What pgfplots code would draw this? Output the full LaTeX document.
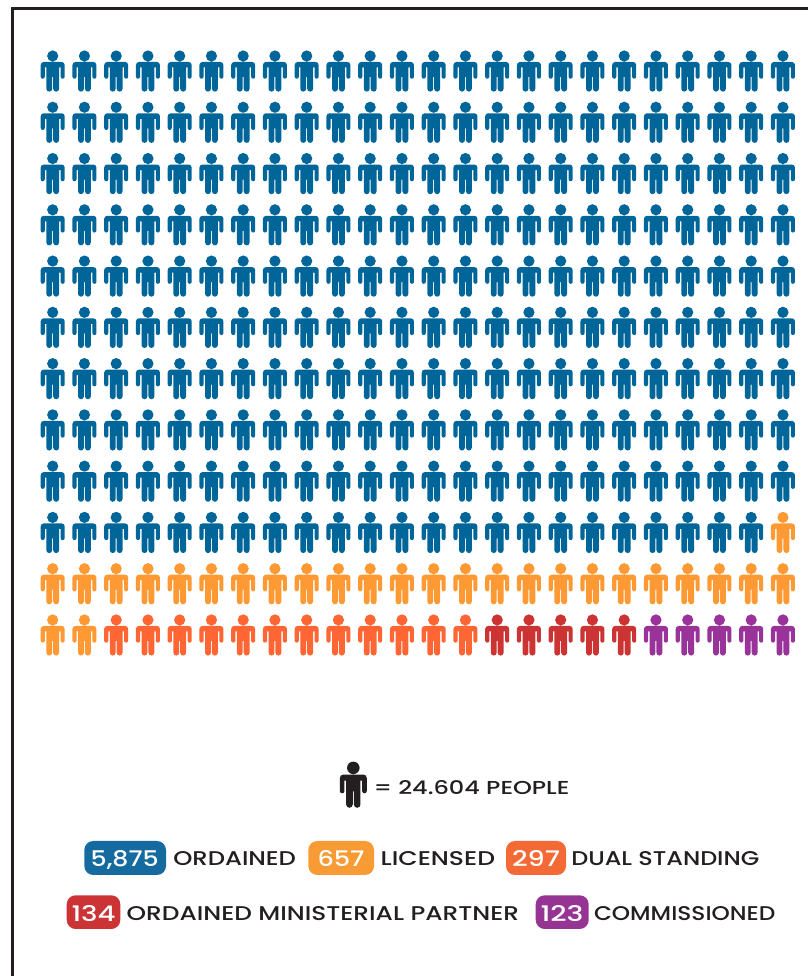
\documentclass[border=0pt]{standalone}
\usepackage{pgfplots}
\pgfplotsset{compat=1.18}
\usepackage{graphicx}
\usepackage{fontspec}
\setmainfont{Poppins Medium}
\definecolor{cblue}{HTML}{006699}
\definecolor{corange}{HTML}{FF9933}
\definecolor{cdual}{HTML}{FF6633}
\definecolor{cred}{HTML}{CC3333}
\definecolor{cpurple}{HTML}{993399}
\definecolor{bblue}{HTML}{156A9F}
\definecolor{borange}{HTML}{F99B35}
\definecolor{bdual}{HTML}{F36A37}
\definecolor{bred}{HTML}{CB3335}
\definecolor{bpurple}{HTML}{963494}
\definecolor{ink}{HTML}{231F20}
\pgfdeclareplotmark{person}{%
  \pgfpathcircle{\pgfpointorigin}{5.6pt}%
  \pgfpathmoveto{\pgfpoint{-9pt}{-6pt}}%
  \pgfpathlineto{\pgfpoint{9pt}{-6pt}}%
  \pgfpatharc{90}{0}{3pt}%
  \pgfpathlineto{\pgfpoint{12pt}{-20.7pt}}%
  \pgfpatharc{0}{-180}{2.05pt}%
  \pgfpathlineto{\pgfpoint{7.9pt}{-11.5pt}}%
  \pgfpathlineto{\pgfpoint{6.4pt}{-11.5pt}}%
  \pgfpathlineto{\pgfpoint{6.4pt}{-32.7pt}}%
  \pgfpatharc{0}{-180}{2.95pt}%
  \pgfpathlineto{\pgfpoint{0.5pt}{-21pt}}%
  \pgfpathlineto{\pgfpoint{-0.5pt}{-21pt}}%
  \pgfpathlineto{\pgfpoint{-0.5pt}{-32.7pt}}%
  \pgfpatharc{0}{-180}{2.95pt}%
  \pgfpathlineto{\pgfpoint{-6.4pt}{-11.5pt}}%
  \pgfpathlineto{\pgfpoint{-7.9pt}{-11.5pt}}%
  \pgfpathlineto{\pgfpoint{-7.9pt}{-20.7pt}}%
  \pgfpatharc{0}{-180}{2.05pt}%
  \pgfpathlineto{\pgfpoint{-12pt}{-9pt}}%
  \pgfpatharc{180}{90}{3pt}%
  \pgfpathclose
  \pgfusepathqfill
}
% left x, baseline y, width, cap height, colour, text
\newcommand{\lab}[6]{%
  \node[anchor=base west,inner sep=0pt,outer sep=0pt,text=#5] at (#1,#2) {\resizebox{#3pt}{#4pt}{#6}};
}
\begin{document}
\begin{tikzpicture}
\useasboundingbox (0,0) rectangle (808pt,976pt);
\begin{axis}[
  at={(0,0)},anchor=south west,
  scale only axis,width=808pt,height=976pt,
  hide axis,
  y dir=reverse,
  xmin=-0.6598,xmax=24.789,
  ymin=-0.0923,ymax=18.945,
  clip=false,
]
\addplot[only marks,mark=person,color=cblue,mark options={fill=cblue}] coordinates {
(1,1)(2,1)(3,1)(4,1)(5,1)(6,1)(7,1)(8,1)(9,1)(10,1)(11,1)(12,1)(13,1)(14,1)(15,1)(16,1)(17,1)(18,1)(19,1)(20,1)(21,1)(22,1)(23,1)(24,1)
(1,2)(2,2)(3,2)(4,2)(5,2)(6,2)(7,2)(8,2)(9,2)(10,2)(11,2)(12,2)(13,2)(14,2)(15,2)(16,2)(17,2)(18,2)(19,2)(20,2)(21,2)(22,2)(23,2)(24,2)
(1,3)(2,3)(3,3)(4,3)(5,3)(6,3)(7,3)(8,3)(9,3)(10,3)(11,3)(12,3)(13,3)(14,3)(15,3)(16,3)(17,3)(18,3)(19,3)(20,3)(21,3)(22,3)(23,3)(24,3)
(1,4)(2,4)(3,4)(4,4)(5,4)(6,4)(7,4)(8,4)(9,4)(10,4)(11,4)(12,4)(13,4)(14,4)(15,4)(16,4)(17,4)(18,4)(19,4)(20,4)(21,4)(22,4)(23,4)(24,4)
(1,5)(2,5)(3,5)(4,5)(5,5)(6,5)(7,5)(8,5)(9,5)(10,5)(11,5)(12,5)(13,5)(14,5)(15,5)(16,5)(17,5)(18,5)(19,5)(20,5)(21,5)(22,5)(23,5)(24,5)
(1,6)(2,6)(3,6)(4,6)(5,6)(6,6)(7,6)(8,6)(9,6)(10,6)(11,6)(12,6)(13,6)(14,6)(15,6)(16,6)(17,6)(18,6)(19,6)(20,6)(21,6)(22,6)(23,6)(24,6)
(1,7)(2,7)(3,7)(4,7)(5,7)(6,7)(7,7)(8,7)(9,7)(10,7)(11,7)(12,7)(13,7)(14,7)(15,7)(16,7)(17,7)(18,7)(19,7)(20,7)(21,7)(22,7)(23,7)(24,7)
(1,8)(2,8)(3,8)(4,8)(5,8)(6,8)(7,8)(8,8)(9,8)(10,8)(11,8)(12,8)(13,8)(14,8)(15,8)(16,8)(17,8)(18,8)(19,8)(20,8)(21,8)(22,8)(23,8)(24,8)
(1,9)(2,9)(3,9)(4,9)(5,9)(6,9)(7,9)(8,9)(9,9)(10,9)(11,9)(12,9)(13,9)(14,9)(15,9)(16,9)(17,9)(18,9)(19,9)(20,9)(21,9)(22,9)(23,9)(24,9)
(1,10)(2,10)(3,10)(4,10)(5,10)(6,10)(7,10)(8,10)(9,10)(10,10)(11,10)(12,10)(13,10)(14,10)(15,10)(16,10)(17,10)(18,10)(19,10)(20,10)(21,10)(22,10)(23,10)
};
\addplot[only marks,mark=person,color=corange,mark options={fill=corange}] coordinates {
(24,10)
(1,11)(2,11)(3,11)(4,11)(5,11)(6,11)(7,11)(8,11)(9,11)(10,11)(11,11)(12,11)(13,11)(14,11)(15,11)(16,11)(17,11)(18,11)(19,11)(20,11)(21,11)(22,11)(23,11)(24,11)
(1,12)(2,12)
};
\addplot[only marks,mark=person,color=cdual,mark options={fill=cdual}] coordinates {
(3,12)(4,12)(5,12)(6,12)(7,12)(8,12)(9,12)(10,12)(11,12)(12,12)(13,12)(14,12)
};
\addplot[only marks,mark=person,color=cred,mark options={fill=cred}] coordinates {
(15,12)(16,12)(17,12)(18,12)(19,12)
};
\addplot[only marks,mark=person,color=cpurple,mark options={fill=cpurple}] coordinates {
(20,12)(21,12)(22,12)(23,12)(24,12)
};
\addplot[only marks,mark=person,color=ink,mark options={fill=ink,scale=1.12}] coordinates {
(10.468,14.885)
};
\end{axis}
\begin{scope}[shift={(0,976pt)},x=1pt,y=-1pt]
  \draw[ink,line width=3pt] (808,9) -- (12.5,9) -- (12.5,976);
  % badges
  \fill[bblue,rounded corners=9pt] (84.3,841) rectangle (166,875);
  \fill[borange,rounded corners=9pt] (308.3,841) rectangle (374,875);
  \fill[bdual,rounded corners=9pt] (506,841) rectangle (566,875);
  \fill[bred,rounded corners=9pt] (66.7,895.3) rectangle (120.3,929);
  \fill[bpurple,rounded corners=9pt] (535.7,895.3) rectangle (588.7,929);
  % numbers
  \lab{90.7}{866.2}{68}{16}{white}{5,875}
  \lab{317.5}{866.2}{47}{16}{white}{657}
  \lab{512}{866.2}{48}{16}{white}{297}
  \lab{71.5}{921.2}{44}{16}{white}{134}
  \lab{540.5}{921.2}{43}{16}{white}{123}
  % labels
  \lab{173.3}{865.8}{122.7}{14}{ink}{ORDAINED}
  \lab{380.7}{865.8}{114.3}{14}{ink}{LICENSED}
  \lab{571.3}{865.8}{188}{14}{ink}{DUAL STANDING}
  \lab{126.7}{920.4}{392.3}{14}{ink}{ORDAINED MINISTERIAL PARTNER}
  \lab{594}{920.4}{181.3}{14}{ink}{COMMISSIONED}
  \lab{373.5}{795}{196}{14}{ink}{= 24.604 PEOPLE}
\end{scope}
\end{tikzpicture}
\end{document}
